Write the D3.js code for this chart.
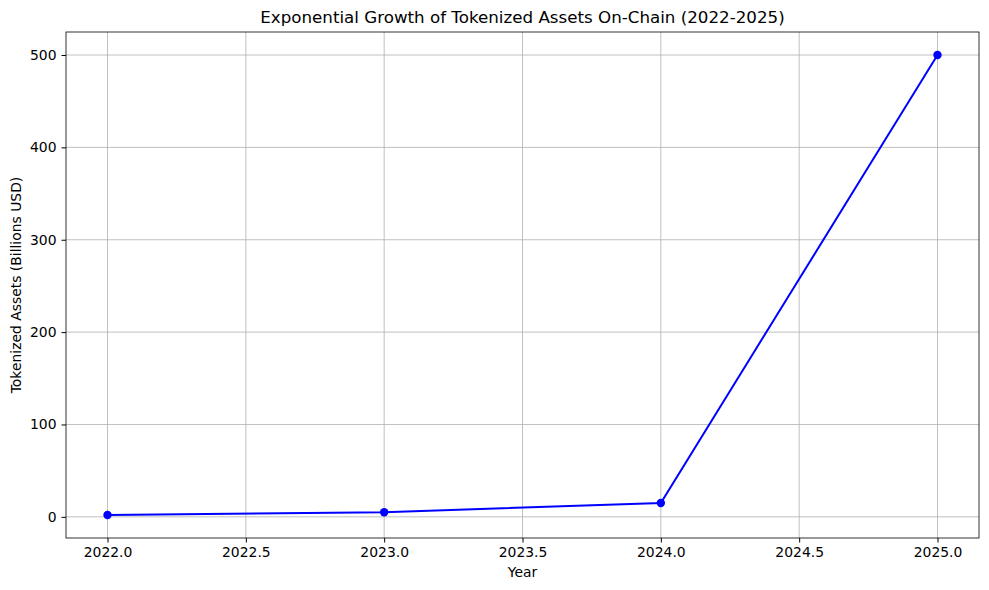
<!DOCTYPE html>
<html><head><meta charset="utf-8">
<script src="https://cdn.jsdelivr.net/npm/d3@7"></script>
<style>body{margin:0;background:#fff;font-family:"DejaVu Sans",sans-serif}</style>
</head><body><svg id="svg" width="989" height="590"></svg>
<script>
const years = [2022, 2023, 2024, 2025];
const assets = [2, 5, 15, 500];
const xTicks = [2022.0, 2022.5, 2023.0, 2023.5, 2024.0, 2024.5, 2025.0];
const yTicks = [0, 100, 200, 300, 400, 500];

const m = {l: 66, r: 979, t: 32, b: 538};
const svg = d3.select('#svg');
const x = d3.scaleLinear().domain([2022 - 0.15, 2025 + 0.15]).range([m.l, m.r]);
const y = d3.scaleLinear().domain([2 - 24.9, 500 + 24.9]).range([m.b, m.t]);

// grid
svg.append('g').selectAll('line').data(xTicks).join('line')
  .attr('x1', d => x(d)).attr('x2', d => x(d)).attr('y1', m.t).attr('y2', m.b)
  .attr('stroke', '#b0b0b0').attr('stroke-width', 0.8);
svg.append('g').selectAll('line').data(yTicks).join('line')
  .attr('y1', d => y(d)).attr('y2', d => y(d)).attr('x1', m.l).attr('x2', m.r)
  .attr('stroke', '#b0b0b0').attr('stroke-width', 0.8);

const xa = svg.append('g').attr('transform', `translate(0,${m.b})`)
  .call(d3.axisBottom(x).tickValues(xTicks).tickFormat(d3.format('.1f')).tickSize(4.5).tickPadding(5));
const ya = svg.append('g').attr('transform', `translate(${m.l},0)`)
  .call(d3.axisLeft(y).tickValues(yTicks).tickSize(4.5).tickPadding(5));
[xa, ya].forEach(a => {
  a.select('.domain').remove();
  a.selectAll('text').attr('font-size', 13.9).attr('font-family', 'DejaVu Sans').attr('fill', '#000');
});
svg.append('rect').attr('x', m.l).attr('y', m.t).attr('width', m.r - m.l).attr('height', m.b - m.t)
  .attr('fill', 'none').attr('stroke', '#000').attr('stroke-width', 0.8);

const line = d3.line().x((d, i) => x(years[i])).y(d => y(d));
svg.append('path').datum(assets).attr('d', line).attr('fill', 'none').attr('stroke', 'blue').attr('stroke-width', 2);
svg.append('g').selectAll('circle').data(assets).join('circle')
  .attr('cx', (d, i) => x(years[i])).attr('cy', d => y(d)).attr('r', 4.2).attr('fill', 'blue');

svg.append('text').attr('x', (m.l + m.r) / 2).attr('y', 23).attr('text-anchor', 'middle')
  .attr('font-size', 16.7).text('Exponential Growth of Tokenized Assets On-Chain (2022-2025)');
svg.append('text').attr('x', (m.l + m.r) / 2).attr('y', 577).attr('text-anchor', 'middle')
  .attr('font-size', 13.9).text('Year');
svg.append('text').attr('transform', `translate(21,${(m.t + m.b) / 2}) rotate(-90)`).attr('text-anchor', 'middle')
  .attr('font-size', 13.9).text('Tokenized Assets (Billions USD)');
</script></body></html>
